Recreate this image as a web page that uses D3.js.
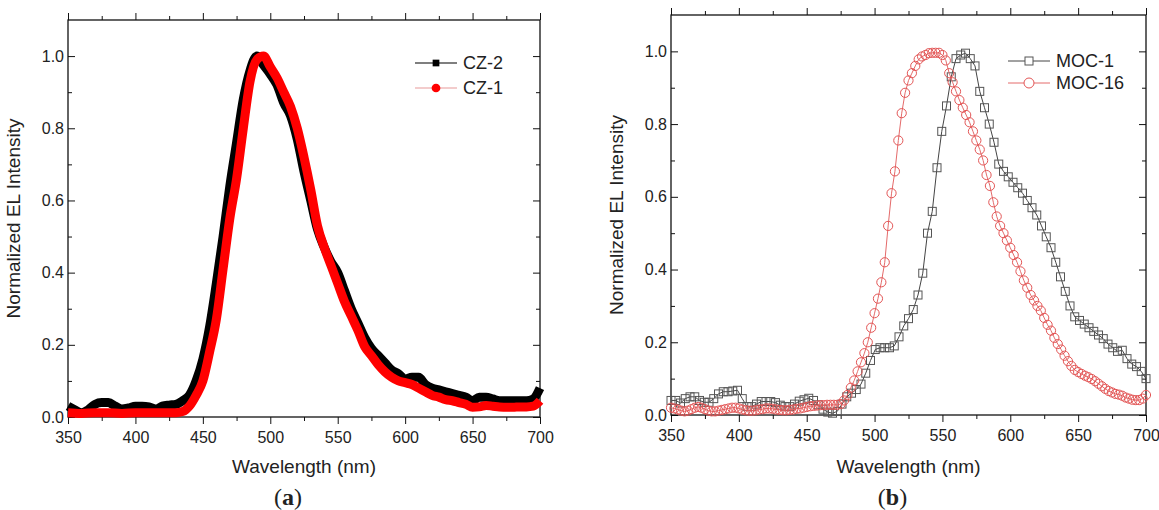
<!DOCTYPE html>
<html lang="en">
<head>
<meta charset="UTF-8">
<title>EL spectra</title>
<script src="https://cdn.jsdelivr.net/npm/d3@7"></script>
<style>
  body { margin: 0; background: #fff; }
  text { font-family: "Liberation Sans", Arial, sans-serif; fill: #222; }
</style>
</head>
<body>
<svg width="1159" height="510" id="mainsvg"></svg>
<script>
// ---- data: [wavelength nm, normalized intensity] ----
const cz2 = [[350,0.03],[355,0.02],[360,0.012],[365,0.02],[370,0.035],[375,0.04],[380,0.04],[385,0.03],[390,0.022],[395,0.025],
  [400,0.03],[405,0.03],[410,0.028],[415,0.022],[420,0.03],[425,0.033],[430,0.035],[435,0.045],[440,0.06],[445,0.10],
  [450,0.16],[455,0.25],[460,0.37],[465,0.50],[470,0.64],[475,0.76],[480,0.88],[485,0.96],[490,1.0],[495,0.975],
  [500,0.95],[505,0.92],[510,0.87],[515,0.835],[520,0.77],[525,0.68],[530,0.60],[535,0.52],[540,0.47],[545,0.43],
  [550,0.40],[555,0.35],[560,0.30],[565,0.26],[570,0.22],[575,0.19],[580,0.17],[585,0.15],[590,0.13],[595,0.12],
  [600,0.105],[605,0.11],[610,0.11],[615,0.09],[620,0.08],[625,0.075],[630,0.07],[635,0.065],[640,0.06],[645,0.055],
  [650,0.045],[655,0.055],[660,0.055],[665,0.05],[670,0.045],[675,0.045],[680,0.045],[685,0.045],[690,0.045],[695,0.05],[700,0.08]];

const cz1 = [[350,0.012],[360,0.01],[370,0.012],[380,0.012],[390,0.01],[400,0.012],[410,0.012],[420,0.012],[430,0.012],[435,0.015],
  [440,0.03],[445,0.06],[450,0.10],[455,0.18],[460,0.27],[465,0.41],[470,0.55],[475,0.66],[480,0.80],[485,0.93],
  [490,0.99],[495,1.0],[500,0.97],[505,0.94],[510,0.90],[515,0.86],[520,0.80],[525,0.72],[530,0.63],[535,0.53],
  [540,0.47],[545,0.42],[550,0.37],[555,0.32],[560,0.28],[565,0.24],[570,0.195],[575,0.17],[580,0.145],[585,0.125],
  [590,0.11],[595,0.10],[600,0.095],[605,0.09],[610,0.08],[615,0.07],[620,0.06],[625,0.055],[630,0.048],[635,0.045],
  [640,0.04],[645,0.035],[650,0.027],[655,0.028],[660,0.032],[665,0.03],[670,0.028],[675,0.027],[680,0.027],[685,0.028],
  [690,0.028],[695,0.03],[700,0.045]];

const moc1 = [[350,0.04],[353.5,0.04],[357,0.033],[360.5,0.045],[364,0.05],[367.5,0.05],[371,0.04],[374.5,0.035],[378,0.035],[381.5,0.045],
  [385,0.058],[388.5,0.064],[392,0.064],[395.5,0.066],[399,0.068],[402.5,0.045],[406,0.023],[409.5,0.023],[413,0.03],[416.5,0.037],
  [420,0.037],[423.5,0.037],[427,0.034],[430.5,0.027],[434,0.023],[437.5,0.023],[441,0.03],[444.5,0.038],[448,0.042],[451.5,0.046],
  [455,0.04],[458.5,0.028],[462,0.016],[465.5,0.008],[469,0.005],[472.5,0.01],[476,0.03],[479.5,0.05],[483,0.06],[486.5,0.07],
  [490,0.085],[493.5,0.115],[497,0.15],[500.5,0.18],[504,0.185],[507.5,0.185],[511,0.185],[514.5,0.19],[518,0.215],[521.5,0.245],
  [525,0.265],[528.5,0.29],[532,0.33],[535.5,0.39],[539,0.50],[542.5,0.56],[546,0.68],[549.5,0.78],[553,0.85],[556.5,0.93],
  [560,0.98],[563.5,0.99],[567,0.995],[570.5,0.98],[574,0.96],[577.5,0.89],[581,0.845],[584.5,0.80],[588,0.75],[591.5,0.69],
  [595,0.67],[598.5,0.655],[602,0.64],[605.5,0.625],[609,0.61],[612.5,0.59],[616,0.57],[619.5,0.55],[623,0.52],[626.5,0.49],
  [630,0.46],[633.5,0.42],[637,0.38],[640.5,0.34],[644,0.30],[647.5,0.27],[651,0.26],[654.5,0.25],[658,0.24],[661.5,0.23],
  [665,0.22],[668.5,0.21],[672,0.195],[675.5,0.185],[679,0.175],[682.5,0.178],[686,0.155],[689.5,0.14],[693,0.133],[696.5,0.12],[700,0.10]];

const moc16 = [[350,0.02],[352.5,0.018],[355,0.015],[357.5,0.012],[360,0.01],[362.5,0.012],[365,0.016],[367.5,0.02],[370,0.022],[372.5,0.02],
  [375,0.016],[377.5,0.012],[380,0.01],[382.5,0.01],[385,0.012],[387.5,0.014],[390,0.016],[392.5,0.018],[395,0.02],[397.5,0.02],
  [400,0.018],[402.5,0.015],[405,0.013],[407.5,0.012],[410,0.012],[412.5,0.013],[415,0.015],[417.5,0.016],[420,0.018],[422.5,0.018],
  [425,0.017],[427.5,0.015],[430,0.014],[432.5,0.013],[435,0.013],[437.5,0.014],[440,0.015],[442.5,0.017],[445,0.018],[447.5,0.02],
  [450,0.022],[452.5,0.024],[455,0.025],[457.5,0.026],[460,0.027],[462.5,0.027],[465,0.028],[467.5,0.028],[470,0.028],[472.5,0.028],
  [475,0.03],[477.5,0.04],[480,0.055],[482.5,0.075],[485,0.095],[487.5,0.12],[490,0.145],[492.5,0.17],[495,0.20],[497.5,0.24],
  [500,0.28],[502.5,0.32],[505,0.365],[507.5,0.42],[510,0.52],[512.5,0.61],[515,0.67],[517.5,0.755],[520,0.83],[522.5,0.886],
  [525,0.92],[527.5,0.94],[530,0.96],[532.5,0.978],[535,0.986],[537.5,0.99],[540,0.995],[542.5,0.996],[545,0.996],[547.5,0.996],
  [550,0.99],[552.5,0.975],[555,0.94],[557.5,0.915],[560,0.89],[562.5,0.866],[565,0.845],[567.5,0.825],[570,0.805],[572.5,0.78],
  [575,0.755],[577.5,0.73],[580,0.70],[582.5,0.66],[585,0.63],[587.5,0.585],[590,0.546],[592.5,0.52],[595,0.50],[597.5,0.48],
  [600,0.46],[602.5,0.44],[605,0.42],[607.5,0.395],[610,0.37],[612.5,0.35],[615,0.33],[617.5,0.315],[620,0.30],[622.5,0.287],
  [625,0.267],[627.5,0.248],[630,0.232],[632.5,0.212],[635,0.195],[637.5,0.18],[640,0.163],[642.5,0.148],[645,0.135],[647.5,0.124],
  [650,0.118],[652.5,0.113],[655,0.108],[657.5,0.104],[660,0.099],[662.5,0.093],[665,0.086],[667.5,0.079],[670,0.072],[672.5,0.066],
  [675,0.062],[677.5,0.058],[680,0.056],[682.5,0.053],[685,0.048],[687.5,0.045],[690,0.042],[692.5,0.041],[695,0.041],[697.5,0.045],[700,0.055]];

const xTicks = [350, 400, 450, 500, 550, 600, 650, 700];
const xMinor = [375, 425, 475, 525, 575, 625, 675];
const yTicks = [0, 0.2, 0.4, 0.6, 0.8, 1.0];
const yMinor = [0.1, 0.3, 0.5, 0.7, 0.9];

const svg = d3.select('#mainsvg');
const sans = '"Liberation Sans", Arial, sans-serif';

// frame, ticks and titles for one panel
function drawFrame(x, y, label) {
  const [x0, x1] = x.range();
  const [y0, y1] = y.range();
  const g = svg.append('g');

  // inner ticks on left/right/top, outer ticks on the bottom
  const ax = [
    [d3.axisBottom(x).tickValues(xTicks).tickSize(7).tickFormat(d3.format('d')), y0, true],
    [d3.axisBottom(x).tickValues(xMinor).tickSize(4).tickFormat(''), y0, false],
    [d3.axisBottom(x).tickValues(xTicks).tickSize(-7).tickFormat(''), y1, false],
    [d3.axisBottom(x).tickValues(xMinor).tickSize(-4).tickFormat(''), y1, false]
  ];
  ax.forEach(([a, ty, lab]) => {
    const s = g.append('g').attr('transform', `translate(0,${ty})`).call(a);
    s.select('.domain').remove();
    s.selectAll('line').attr('stroke', '#111');
    if (lab) s.selectAll('text').attr('font-size', 16).attr('dy', '1.0em').attr('fill', '#222').attr('font-family', sans);
  });
  const ay = [
    [d3.axisLeft(y).tickValues(yTicks).tickSize(-7).tickFormat(d3.format('.1f')), x0, true],
    [d3.axisLeft(y).tickValues(yMinor).tickSize(-4).tickFormat(''), x0, false],
    [d3.axisLeft(y).tickValues(yTicks).tickSize(7).tickFormat(''), x1, false],
    [d3.axisLeft(y).tickValues(yMinor).tickSize(4).tickFormat(''), x1, false]
  ];
  ay.forEach(([a, tx, lab]) => {
    const s = g.append('g').attr('transform', `translate(${tx},0)`).call(a);
    s.select('.domain').remove();
    s.selectAll('line').attr('stroke', '#111');
    if (lab) s.selectAll('text').attr('font-size', 16).attr('x', -4).attr('fill', '#222').attr('font-family', sans);
  });
  g.append('rect').attr('x', x0).attr('y', y1).attr('width', x1 - x0).attr('height', y0 - y1)
    .attr('fill', 'none').attr('stroke', '#111').attr('stroke-width', 1.3);

  g.append('text').attr('x', (x0 + x1) / 2).attr('y', 473).attr('text-anchor', 'middle')
    .attr('font-size', 19).text('Wavelength (nm)');
  g.append('text').attr('transform', `translate(${x0 - 48},${(y0 + y1) / 2}) rotate(-90)`)
    .attr('text-anchor', 'middle').attr('font-size', 19).text('Normalized EL Intensity');

  const t = g.append('text').attr('x', (x0 + x1) / 2 - 16).attr('y', 505).attr('text-anchor', 'middle')
    .style('font-family', '"Liberation Serif", "Times New Roman", serif').attr('font-size', 24);
  t.append('tspan').text('(');
  t.append('tspan').attr('font-weight', 'bold').text(label);
  t.append('tspan').text(')');
  return g;
}

// ---- panel (a) ----
const xa = d3.scaleLinear().domain([350, 700]).range([68, 540]);
const ya = d3.scaleLinear().domain([0, 1.1]).range([417, 20]);
drawFrame(xa, ya, 'a');
const lineA = d3.line().x(d => xa(d[0])).y(d => ya(d[1])).curve(d3.curveMonotoneX);
svg.append('path').datum(cz2).attr('d', lineA).attr('fill', 'none').attr('stroke', '#000')
  .attr('stroke-width', 9).attr('stroke-linejoin', 'round');
svg.append('path').datum(cz1).attr('d', lineA).attr('fill', 'none').attr('stroke', '#ff0000')
  .attr('stroke-width', 9).attr('stroke-linejoin', 'round');

const legA = svg.append('g').attr('transform', 'translate(415,0)');
[['CZ-2', '#000', '#000', d3.symbolSquare, 45, 63], ['CZ-1', '#ff0000', '#e89a9a', d3.symbolCircle, 60, 88]]
  .forEach(([name, c, lc, shape, size, ly]) => {
    legA.append('line').attr('x1', 0).attr('x2', 42).attr('y1', ly).attr('y2', ly).attr('stroke', lc).attr('stroke-width', 1.2);
    legA.append('path').attr('transform', `translate(21,${ly})`).attr('d', d3.symbol(shape, size)()).attr('fill', c);
    legA.append('text').attr('x', 48).attr('y', ly + 6).attr('font-size', 18).text(name);
  });

// ---- panel (b) ----
const xb = d3.scaleLinear().domain([350, 700]).range([671, 1146]);
const yb = d3.scaleLinear().domain([0, 1.1]).range([415, 15]);
drawFrame(xb, yb, 'b');
const lineB = d3.line().x(d => xb(d[0])).y(d => yb(d[1]));

svg.append('path').datum(moc1).attr('d', lineB).attr('fill', 'none').attr('stroke', '#444').attr('stroke-width', 1);
svg.append('g').selectAll('rect').data(moc1).join('rect')
  .attr('x', d => xb(d[0]) - 4).attr('y', d => yb(d[1]) - 4).attr('width', 8).attr('height', 8)
  .attr('fill', 'none').attr('stroke', '#555').attr('stroke-width', 1);

svg.append('path').datum(moc16).attr('d', lineB).attr('fill', 'none').attr('stroke', '#e46a6a').attr('stroke-width', 1);
svg.append('g').selectAll('circle').data(moc16).join('circle')
  .attr('cx', d => xb(d[0])).attr('cy', d => yb(d[1])).attr('r', 4.6)
  .attr('fill', 'none').attr('stroke', '#e35555').attr('stroke-width', 1);

const legB = svg.append('g').attr('transform', 'translate(1008,0)');
legB.append('line').attr('x1', 0).attr('x2', 42).attr('y1', 61).attr('y2', 61).attr('stroke', '#444');
legB.append('rect').attr('x', 17).attr('y', 57).attr('width', 8).attr('height', 8).attr('fill', '#fff').attr('stroke', '#555');
legB.append('text').attr('x', 48).attr('y', 67).attr('font-size', 18).text('MOC-1');
legB.append('line').attr('x1', 0).attr('x2', 42).attr('y1', 83).attr('y2', 83).attr('stroke', '#e46a6a');
legB.append('circle').attr('cx', 21).attr('cy', 83).attr('r', 5).attr('fill', '#fff').attr('stroke', '#e35555');
legB.append('text').attr('x', 48).attr('y', 89).attr('font-size', 18).text('MOC-16');
</script>
</body>
</html>
